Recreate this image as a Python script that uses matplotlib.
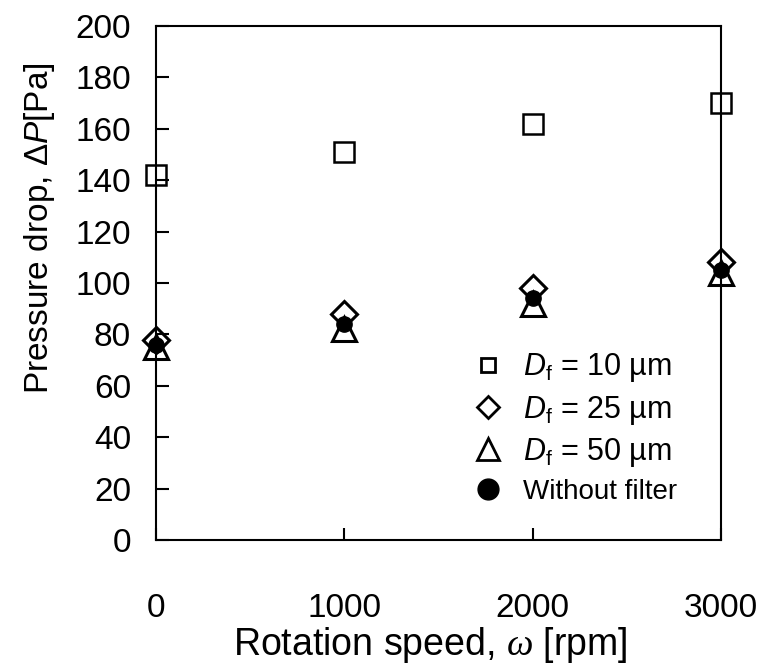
import matplotlib
matplotlib.use("Agg")
import matplotlib.pyplot as plt
from matplotlib.lines import Line2D

plt.rcParams['font.family'] = ['Liberation Sans', 'DejaVu Sans']
plt.rcParams['mathtext.fontset'] = 'custom'
plt.rcParams['mathtext.rm'] = 'Liberation Sans'
plt.rcParams['mathtext.it'] = 'Liberation Sans:italic'
plt.rcParams['mathtext.sf'] = 'Liberation Serif:italic'

speed = [0, 1000, 2000, 3000]
dp_10um = [142, 151, 162, 170]
dp_25um = [78, 88, 98, 108]
dp_50um = [75, 82, 92, 104]
dp_nofilter = [76, 84, 94, 105]

y_ticks = list(range(0, 201, 20))
x_ticks = [0, 1000, 2000, 3000]

fig = plt.figure(figsize=(7.66, 6.70), dpi=100)
ax = fig.add_axes([156/766, 1 - 540/670, (721-156)/766, (540-26)/670])

ax.plot(speed, dp_nofilter, 'o', ms=11, color='black', clip_on=False, zorder=3)
ax.plot(speed, dp_50um, '^', ms=17, mfc='none', mec='black', mew=2.2, clip_on=False, zorder=4)
ax.plot(speed, dp_25um, 'D', ms=13, mfc='none', mec='black', mew=2.2, clip_on=False, zorder=4)
ax.plot(speed, dp_10um, 's', ms=14, mfc='none', mec='black', mew=1.8, clip_on=False, zorder=4)

ax.set_xlim(0, 3000)
ax.set_ylim(0, 200)
ax.set_xticks(x_ticks)
ax.set_yticks(y_ticks)
ax.tick_params(axis='both', direction='in', length=9, width=1.5, labelsize=24)
ax.tick_params(axis='x', pad=38)
ax.tick_params(axis='y', pad=18)
for s in ax.spines.values():
    s.set_linewidth(1.5)

fig.text(430/766, 1 - 645/670, r'Rotation speed, $\mathsf{\omega}$ [rpm]', fontsize=27,
         ha='center', va='center')
fig.text(40/766, 1 - 228/670, r'Pressure drop, $\Delta \mathit{P}$[Pa]', fontsize=24,
         ha='center', va='center', rotation=90)

handles = [
    Line2D([], [], ls='none', marker='s', ms=10.5, mfc='none', mec='black', mew=2),
    Line2D([], [], ls='none', marker='D', ms=11, mfc='none', mec='black', mew=2),
    Line2D([], [], ls='none', marker='^', ms=16, mfc='none', mec='black', mew=2),
    Line2D([], [], ls='none', marker='o', ms=15, color='black'),
]
labels = [r'$\mathit{D}_{\rm f}$ = 10 µm', r'$\mathit{D}_{\rm f}$ = 25 µm',
          r'$\mathit{D}_{\rm f}$ = 50 µm', 'Without filter']
leg = ax.legend(handles, labels, loc='upper left', bbox_to_anchor=(448/766, 1 - 330/670),
                bbox_transform=fig.transFigure, frameon=False, fontsize=22,
                handletextpad=0.55, labelspacing=0.3, handlelength=1.2,
                borderpad=0.2)
leg.get_texts()[3].set_fontsize(20)

fig.savefig('out.png', dpi=100)
